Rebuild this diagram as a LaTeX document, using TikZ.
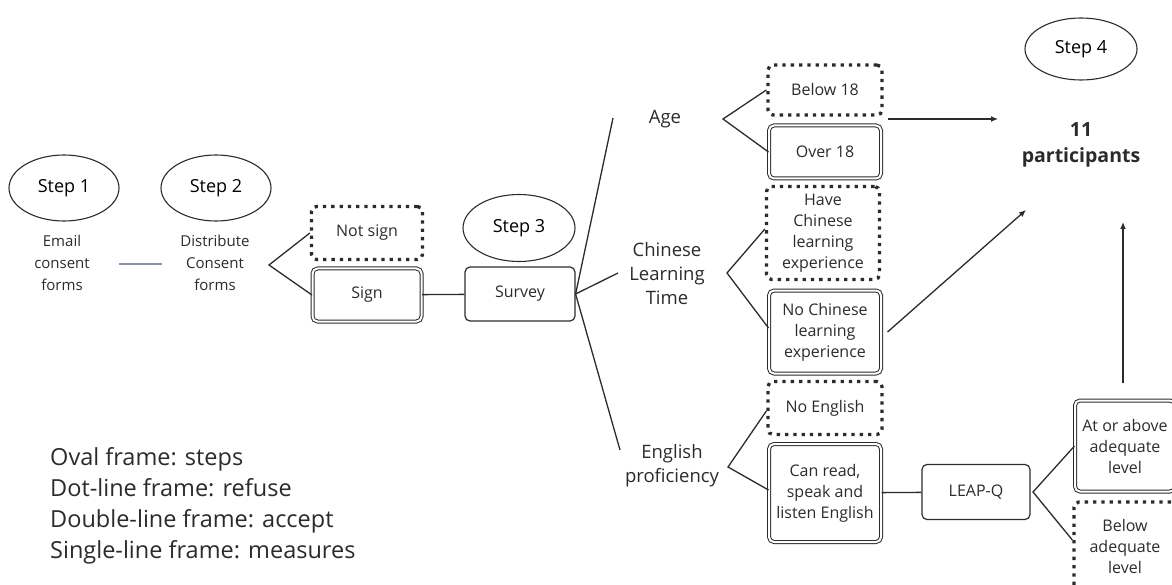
\documentclass[tikz,border=0pt]{standalone}
\usepackage{fontspec}
\setmainfont{Open Sans}
\usetikzlibrary{shapes.geometric,arrows.meta}
\definecolor{ink}{HTML}{2B2B2B}
\definecolor{softline}{HTML}{8A93A8}
\tikzset{
  stepoval/.style={ellipse, draw=ink, line width=1.1pt, minimum width=110pt,
    minimum height=66pt, inner sep=0pt, font=\fontsize{18}{20}\selectfont},
  note/.style={align=center, text=ink, inner sep=0pt, font=\fontsize{15}{22}\selectfont},
  branch/.style={align=center, text=ink, inner sep=0pt, font=\fontsize{18.5}{24}\selectfont},
  box/.style={rectangle, rounded corners=5pt, align=center, text=ink, inner sep=0pt,
    font=\fontsize{16}{21}\selectfont},
  refuse/.style={box, draw=ink, line width=3.3pt, dash pattern=on 3.3pt off 5pt},
  accept/.style={box, draw=ink, double=white, double distance=2pt, line width=1pt},
  measure/.style={box, draw=ink, line width=1.2pt},
  link/.style={draw=ink, line width=1.3pt},
  flow/.style={link, -{Latex[length=7pt,width=6pt]}}
}
\begin{document}
\begin{tikzpicture}[x=1pt,y=-1pt]
\useasboundingbox (0,0) rectangle (1172,585);

% Step 1 and Step 2
\node[stepoval] (s1) at (64,188) {Step 1};
\node[note] (t1) at (62,263) {Email\\consent\\forms};
\node[stepoval] (s2) at (216,188) {Step 2};
\node[note] (t2) at (215,263) {Distribute\\Consent\\forms};
\coordinate (g1) at (119,264);
\coordinate (g2) at (162,264);
\draw[softline, line width=1.6pt] (g1) -- (g2);

% consent outcome
\node[refuse, minimum width=111pt, minimum height=53pt] (notsign) at (367,233) {Not sign};
\node[accept, minimum width=109pt, minimum height=53pt] (sign) at (367,295) {Sign};
\coordinate (f2) at (269,265);
\draw[link] (notsign.west) -- (f2) -- (sign.west);

% Step 3 and survey
\node[stepoval, minimum width=112pt, minimum height=67pt] (s3) at (519,228) {Step 3};
\node[measure, minimum width=110pt, minimum height=54pt] (survey) at (520,294) {Survey};
\draw[link] (sign) -- (survey);
\coordinate (ra) at (613,118);
\coordinate (rc) at (618,273);
\coordinate (re) at (620,450);
\draw[link] (ra) -- (survey.east) -- (re);
\draw[link] (survey.east) -- (rc);

% survey criteria
\node[branch] (age) at (665,119) {Age};
\node[branch] (clt) at (667,274) {Chinese\\Learning\\Time};
\node[branch] (eng) at (672,466) {English\\proficiency};

\node[refuse, minimum width=114pt, minimum height=50pt] (below18) at (825,90) {Below 18};
\node[accept, minimum width=112pt, minimum height=53pt] (over18) at (825,152) {Over 18};
\coordinate (fa) at (723,119);
\draw[link] (below18.west) -- (fa) -- (over18.west);

\node[refuse, minimum width=113pt, minimum height=93pt] (have) at (823,233) {Have\\Chinese\\learning\\experience};
\node[accept, minimum width=112pt, minimum height=83pt] (nochinese) at (825,332) {No Chinese\\learning\\experience};
\coordinate (fc) at (727,273);
\draw[link] ([yshift=4pt]have.west) -- (fc) -- ([yshift=4pt]nochinese.west);

\node[refuse, minimum width=114pt, minimum height=53pt] (noeng) at (825,408) {No English};
\node[accept, minimum width=112pt, minimum height=98pt] (canread) at (825,493) {Can read,\\speak and\\listen English};
\coordinate (fe) at (728,467);
\draw[link] ([yshift=-3pt]noeng.west) -- (fe) -- ([yshift=3pt]canread.west);

% LEAP-Q screening
\node[measure, minimum width=108pt, minimum height=55pt] (leapq) at (976,492) {LEAP-Q};
\draw[link] (canread) -- (leapq);
\node[accept, minimum width=100pt, minimum height=91pt] (above) at (1125,446) {At or above\\adequate\\level};
\node[refuse, minimum width=102pt, minimum height=88pt] (belowlvl) at (1125,546) {Below\\adequate\\level};
\coordinate (fl) at (1033,492);
\draw[link] (above.west) -- (fl) -- ([yshift=6pt]belowlvl.west);

% Step 4 and result
\node[stepoval, minimum width=112pt, minimum height=62pt] (s4) at (1081,49) {Step 4};
\node[align=center, text=ink, inner sep=0pt, font=\fontsize{19.5}{26}\selectfont\bfseries] (part) at (1081,145) {11\\participants};
\coordinate (a1s) at (888,119);
\coordinate (a1e) at (998,119);
\draw[flow] (a1s) -- (a1e);
\coordinate (a2e) at (1026,210);
\draw[flow] ([xshift=6pt]nochinese.east) -- (a2e);
\coordinate (a3e) at (1123,222);
\draw[flow] ([yshift=17pt]above.north -| a3e) -- (a3e);

% legend
\node[anchor=north west, align=left, text=ink, inner sep=0pt,
  font=\fontsize{23.5}{31}\selectfont] (legend) at (50,447)
  {Oval frame: steps\\Dot-line frame: refuse\\Double-line frame: accept\\Single-line frame: measures};
\end{tikzpicture}
\end{document}
